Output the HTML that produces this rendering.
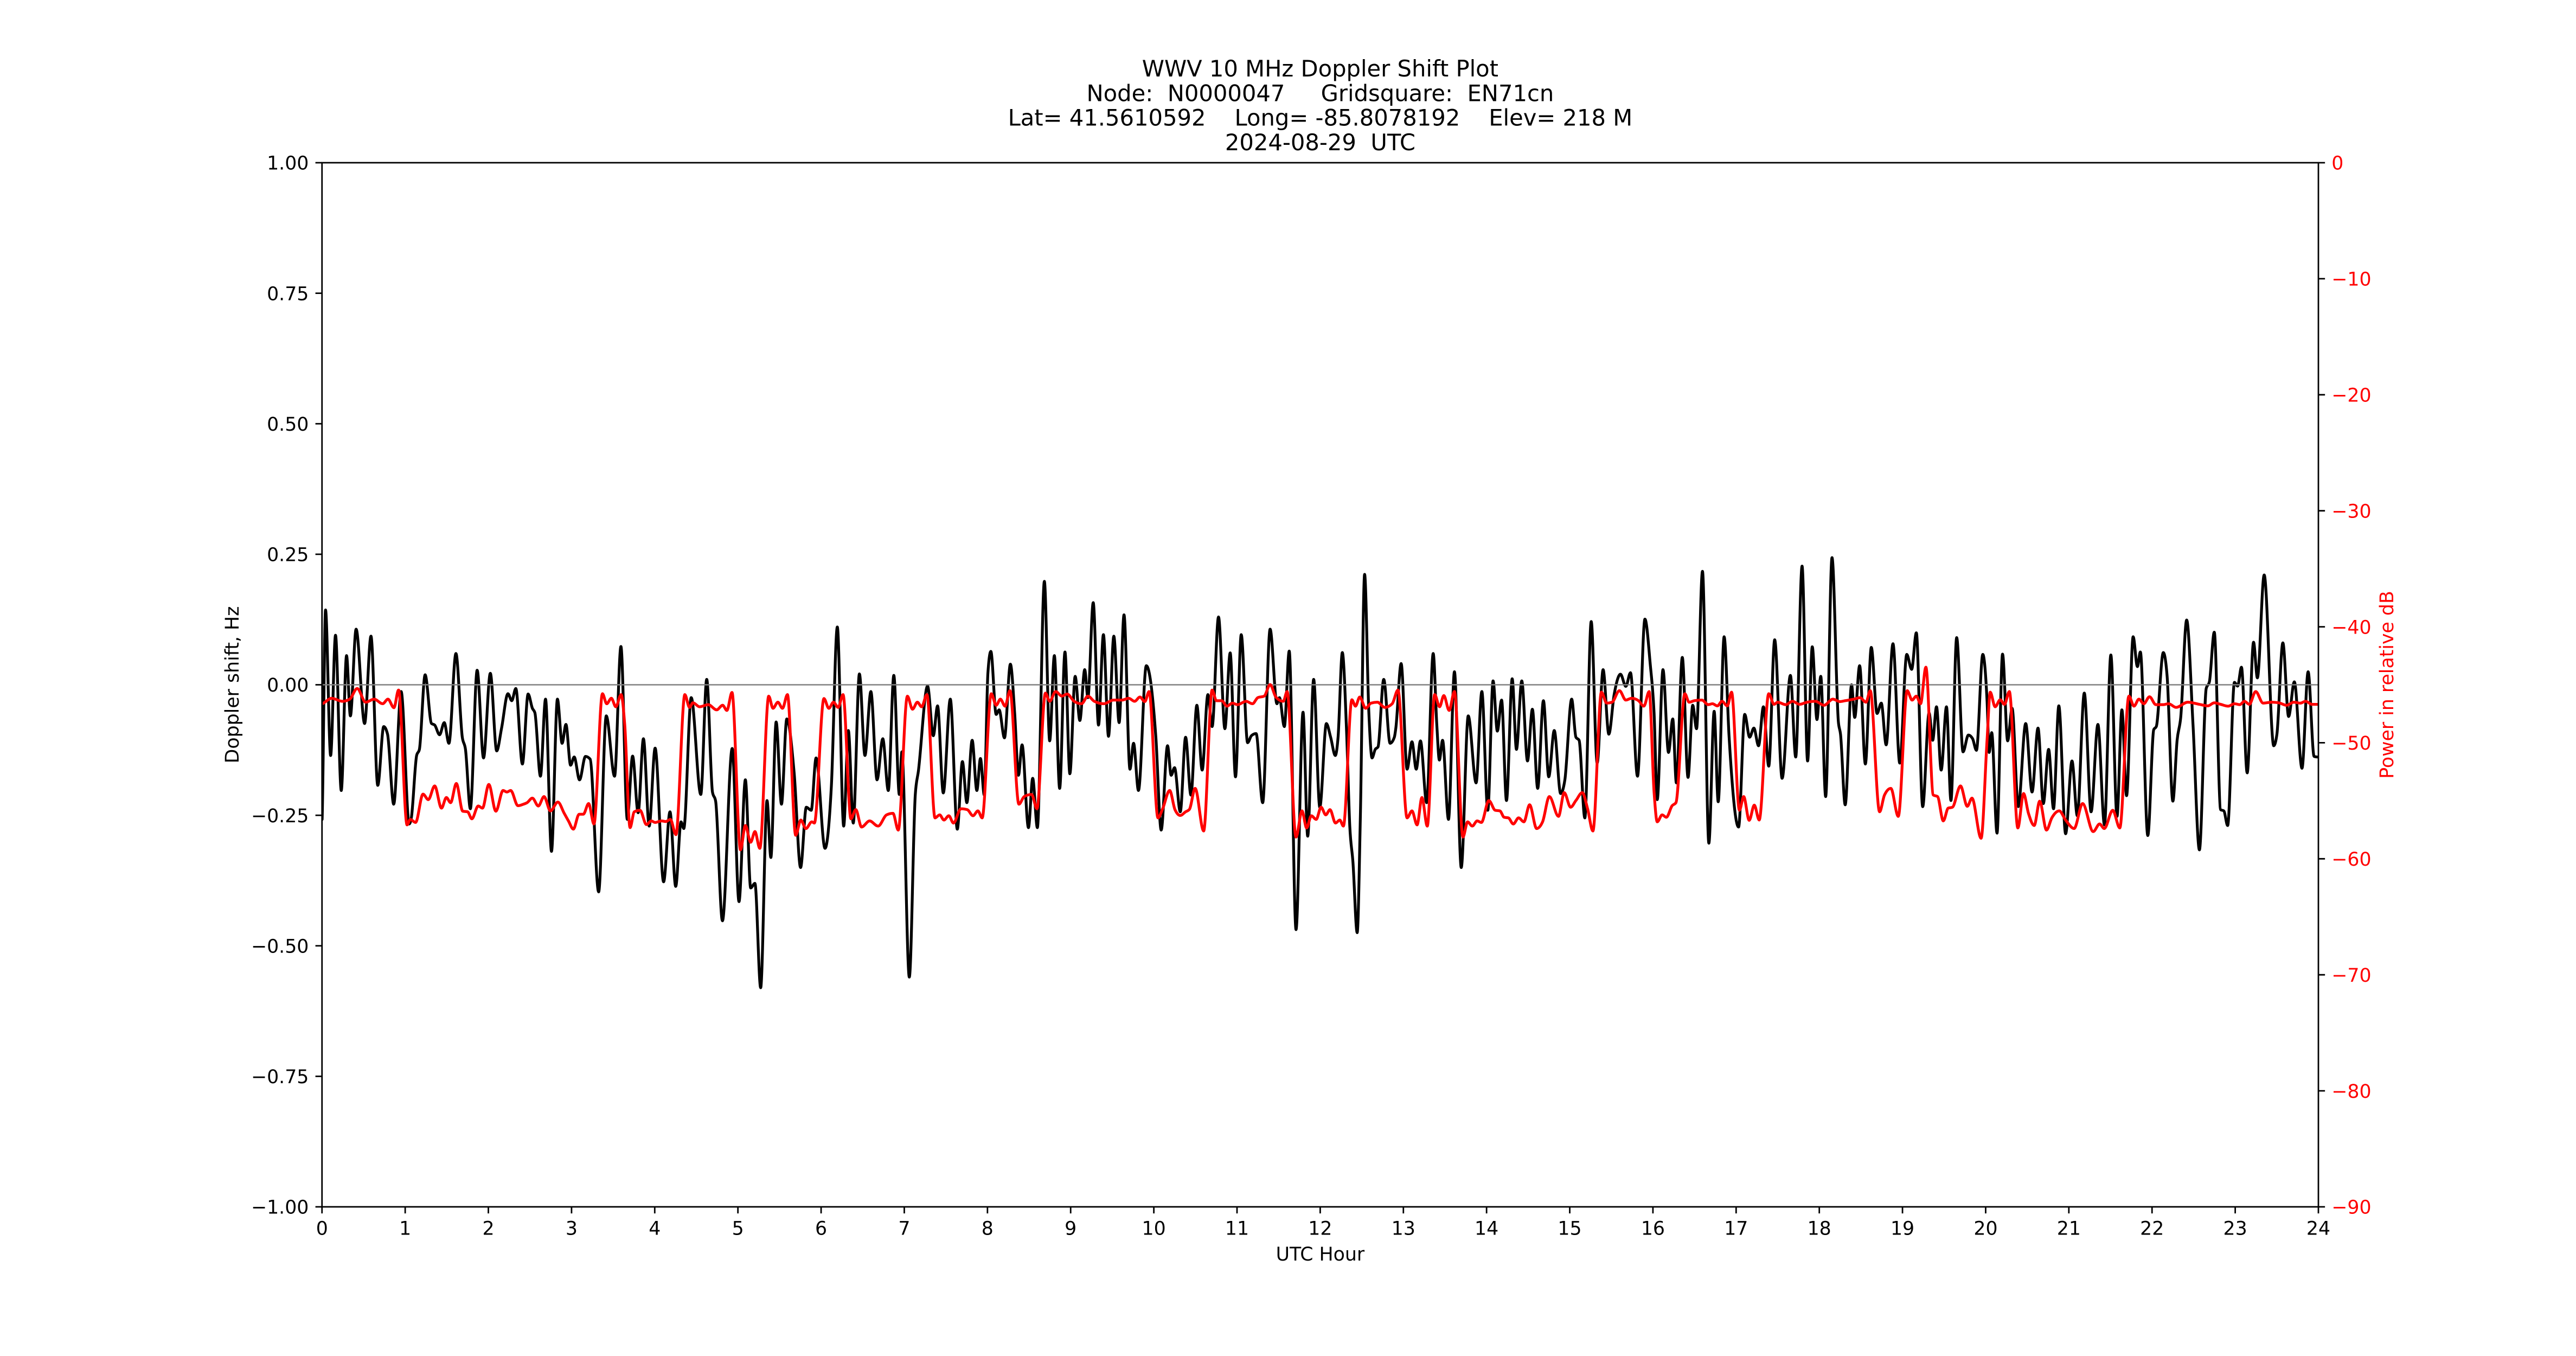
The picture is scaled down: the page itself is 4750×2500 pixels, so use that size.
<!DOCTYPE html>
<html>
<head>
<meta charset="utf-8">
<style>
html,body{margin:0;padding:0;background:#fff;}
svg{display:block;}
text{font-family:"DejaVu Sans","Liberation Sans",sans-serif;white-space:pre;}
</style>
</head>
<body>
<svg id="chart" width="4750" height="2500" viewBox="0 0 4750 2500" xmlns="http://www.w3.org/2000/svg">
<rect x="0" y="0" width="4750" height="2500" fill="#ffffff"/>
<defs>
<clipPath id="plotclip"><rect x="593.75" y="300" width="3681.25" height="1925"/></clipPath>
</defs>

<!-- Title -->
<g font-size="41.67" fill="#000" text-anchor="middle">
<text x="2434.4" y="141.2">WWV 10 MHz Doppler Shift Plot</text>
<text x="2434.4" y="186.4">Node:  N0000047     Gridsquare:  EN71cn</text>
<text x="2434.4" y="231.6">Lat= 41.5610592    Long= -85.8078192    Elev= 218 M</text>
<text x="2434.4" y="276.8">2024-08-29  UTC</text>
</g>

<!-- Data -->
<g clip-path="url(#plotclip)">
<path id="blk" d="" fill="none" stroke="#000000" stroke-width="5.2" stroke-linejoin="round" stroke-linecap="round"/>
<line x1="593.75" y1="1262.5" x2="4275" y2="1262.5" stroke="#808080" stroke-width="2.6"/>
<path id="red" d="" fill="none" stroke="#ff0000" stroke-width="5.2" stroke-linejoin="round" stroke-linecap="round"/>
</g>

<!-- Left ticks -->
<path d="M581.6,300h12.15M581.6,540.6h12.15M581.6,781.25h12.15M581.6,1021.9h12.15M581.6,1262.5h12.15M581.6,1503.1h12.15M581.6,1743.75h12.15M581.6,1984.4h12.15M581.6,2225h12.15" stroke="#000" stroke-width="2.78" fill="none"/>
<g font-size="34.72" fill="#000" text-anchor="end">
<text x="569.4" y="312.65">1.00</text>
<text x="569.4" y="553.25">0.75</text>
<text x="569.4" y="793.9">0.50</text>
<text x="569.4" y="1034.55">0.25</text>
<text x="569.4" y="1275.15">0.00</text>
<text x="569.4" y="1515.75">−0.25</text>
<text x="569.4" y="1756.4">−0.50</text>
<text x="569.4" y="1997.05">−0.75</text>
<text x="569.4" y="2237.65">−1.00</text>
</g>

<!-- Bottom ticks -->
<path d="M593.75,2225v12.15M747.14,2225v12.15M900.52,2225v12.15M1053.91,2225v12.15M1207.29,2225v12.15M1360.68,2225v12.15M1514.06,2225v12.15M1667.45,2225v12.15M1820.83,2225v12.15M1974.22,2225v12.15M2127.6,2225v12.15M2280.99,2225v12.15M2434.38,2225v12.15M2587.76,2225v12.15M2741.15,2225v12.15M2894.53,2225v12.15M3047.92,2225v12.15M3201.3,2225v12.15M3354.69,2225v12.15M3508.07,2225v12.15M3661.46,2225v12.15M3814.84,2225v12.15M3968.23,2225v12.15M4121.61,2225v12.15M4275,2225v12.15" stroke="#000" stroke-width="2.78" fill="none"/>
<g font-size="34.72" fill="#000" text-anchor="middle">
<text x="593.75" y="2276.5">0</text>
<text x="747.14" y="2276.5">1</text>
<text x="900.52" y="2276.5">2</text>
<text x="1053.91" y="2276.5">3</text>
<text x="1207.29" y="2276.5">4</text>
<text x="1360.68" y="2276.5">5</text>
<text x="1514.06" y="2276.5">6</text>
<text x="1667.45" y="2276.5">7</text>
<text x="1820.83" y="2276.5">8</text>
<text x="1974.22" y="2276.5">9</text>
<text x="2127.6" y="2276.5">10</text>
<text x="2280.99" y="2276.5">11</text>
<text x="2434.38" y="2276.5">12</text>
<text x="2587.76" y="2276.5">13</text>
<text x="2741.15" y="2276.5">14</text>
<text x="2894.53" y="2276.5">15</text>
<text x="3047.92" y="2276.5">16</text>
<text x="3201.3" y="2276.5">17</text>
<text x="3354.69" y="2276.5">18</text>
<text x="3508.07" y="2276.5">19</text>
<text x="3661.46" y="2276.5">20</text>
<text x="3814.84" y="2276.5">21</text>
<text x="3968.23" y="2276.5">22</text>
<text x="4121.61" y="2276.5">23</text>
<text x="4275" y="2276.5">24</text>
</g>

<!-- Right ticks -->
<path d="M4275,300h12.15M4275,513.9h12.15M4275,727.8h12.15M4275,941.7h12.15M4275,1155.6h12.15M4275,1369.4h12.15M4275,1583.3h12.15M4275,1797.2h12.15M4275,2011.1h12.15M4275,2225h12.15" stroke="#000" stroke-width="2.78" fill="none"/>
<g font-size="34.72" fill="#ff0000" text-anchor="start">
<text x="4299.3" y="312.65">0</text>
<text x="4299.3" y="526.55">−10</text>
<text x="4299.3" y="740.45">−20</text>
<text x="4299.3" y="954.35">−30</text>
<text x="4299.3" y="1168.25">−40</text>
<text x="4299.3" y="1382.05">−50</text>
<text x="4299.3" y="1595.95">−60</text>
<text x="4299.3" y="1809.85">−70</text>
<text x="4299.3" y="2023.75">−80</text>
<text x="4299.3" y="2237.65">−90</text>
</g>

<!-- Axis labels -->
<text x="2434.4" y="2324" font-size="34.72" fill="#000" text-anchor="middle">UTC Hour</text>
<text transform="translate(440,1262.5) rotate(-90)" x="0" y="0" font-size="34.72" fill="#000" text-anchor="middle">Doppler shift, Hz</text>
<text transform="translate(4413,1262.5) rotate(-90)" x="0" y="0" font-size="34.72" fill="#ff0000" text-anchor="middle">Power in relative dB</text>

<!-- Spines -->
<rect x="593.75" y="300" width="3681.25" height="1925" fill="none" stroke="#000" stroke-width="2.78"/>
</svg>

<script>
(function(){
var SX=614/1568, SY=880/1568, X0=[594,1208,1822,2436,3050,3664];
var B=[
[0,910,16,222,40,700,63,305,90,815,115,372,133,570,160,285,200,595,230,308,262,798,290,605,308,630,337,860,372,490,410,925,420,905,445,700,458,680,485,435,515,595,530,600,553,632,575,592,597,660,630,365,660,640,675,680,698,875,730,420,760,708,792,430,822,685,845,610,875,497,893,520,912,480,943,728,970,498,990,545,1002,560,1028,768,1052,515,1080,1015,1108,515,1130,660,1148,598,1170,732,1187,705,1212,780,1240,703,1262,712,1302,1148,1338,570,1377,768,1407,342,1437,910,1462,702,1488,888,1513,645,1540,932],
[0,676,40,1115,70,885,97,1130,122,918,135,940,170,510,215,828,243,450,270,820,285,850,317,1243,363,677,395,1180,425,780,450,1135,470,1120,497,1463,527,848,545,1035,570,590,595,860,620,580,655,760,685,1068,712,870,735,880,758,708,800,1005,830,800,858,278,888,932,910,618,933,922,962,432,988,700,1016,490,1045,780,1072,645,1098,815,1124,437,1150,828,1162,688,1197,1428,1225,830,1240,750,1283,472,1310,635,1330,537,1357,823,1390,515,1423,942,1447,720,1468,855,1493,650,1515,815,1532,710,1550,830,1567,430],
[13,358,38,565,52,550,77,642,105,400,125,560,143,765,160,665,190,937,210,775,232,937,265,128,290,652,312,372,337,808,362,360,385,760,410,440,432,585,455,418,470,510,495,198,520,600,543,303,567,637,592,308,617,592,640,238,668,745,685,660,708,815,745,405,790,640,815,945,845,668,862,765,878,740,905,885,930,640,955,830,983,535,1008,748,1035,500,1055,605,1085,245,1115,612,1140,363,1165,770,1192,303,1222,658,1240,635,1262,628,1293,855,1328,285,1360,530,1372,510,1395,605,1418,357,1450,1272,1483,558,1505,965,1533,450,1562,870],
[25,595,45,640,67,700,80,640,100,362,120,620,135,930,150,1050,170,1282,185,900,205,105,225,560,240,708,255,680,268,672,295,450,325,660,345,640,352,610,377,398,405,745,428,655,448,745,468,652,497,855,528,365,545,600,557,715,572,650,600,910,628,425,660,1068,693,570,730,790,757,490,785,880,810,455,830,620,850,518,873,848,900,448,920,680,945,455,972,718,995,548,1020,808,1047,520,1072,770,1098,618,1128,825,1148,780,1180,515,1200,640,1215,650,1242,905,1272,260,1300,725,1328,418,1355,630,1380,500,1410,433,1435,473,1457,428,1490,768,1525,252,1550,400,1568,560],
[15,845,42,418,68,690,88,580,105,790,133,378,160,772,182,535,200,612,228,95,258,988,283,555,302,852,330,310,353,635,398,935,427,565,450,640,470,610,492,668,515,540,540,735,568,320,603,775,642,437,667,705,697,78,723,718,745,343,767,582,785,440,808,835,838,50,868,590,878,630,900,862,930,468,945,575,968,405,995,728,1023,345,1050,562,1070,528,1093,665,1125,333,1157,725,1190,368,1213,417,1235,297,1265,868,1295,560,1312,650,1330,540,1352,748,1377,540,1398,848,1425,313,1455,688,1480,633,1500,645,1518,683,1548,368,1568,520],
[10,690,22,625,47,955,73,367,97,652,118,545,147,868,182,595,212,820,240,610,265,858,290,680,313,875,338,537,370,957,400,718,425,898,458,495,490,885,522,598,553,928,583,370,612,900,635,550,657,832,688,310,708,408,722,360,757,963,785,615,797,605,830,362,848,440,875,850,895,650,912,575,940,255,970,600,1000,1010,1032,480,1047,458,1070,295,1100,878,1115,882,1133,930,1165,460,1180,472,1198,410,1225,757,1255,328,1273,445,1305,107,1350,668,1365,630,1393,330,1420,572,1447,458,1483,742,1512,425,1540,703,1555,705]
];
var R=[
[0,530,45,512,95,522,130,515,165,480,205,525,245,515,285,530,310,515,338,543,360,485,400,928,415,910,440,920,475,827,500,845,530,800,562,873,585,838,605,855,632,792,662,883,685,885,705,908,735,866,755,873,785,795,818,883,852,815,870,820,888,815,922,865,948,860,965,855,990,840,1018,866,1045,835,1075,882,1110,853,1140,890,1160,915,1183,942,1210,893,1230,893,1255,858,1280,925,1320,497,1340,530,1362,512,1383,540,1408,500,1425,600,1450,937,1470,885,1497,880,1527,927,1550,915],
[0,920,30,915,50,917,72,910,98,960,140,500,162,542,178,527,210,540,250,533,290,550,318,535,338,552,362,493,402,1010,425,930,450,985,470,950,493,1005,535,505,555,545,578,525,600,545,623,500,662,962,686,912,710,940,738,918,750,922,795,513,818,545,840,525,862,542,885,500,922,908,945,878,972,935,1010,915,1050,932,1090,895,1120,890,1145,945,1188,505,1212,548,1235,525,1255,540,1280,500,1318,905,1340,895,1360,912,1383,898,1405,922,1440,875,1470,878,1497,898,1520,882,1540,905],
[15,497,38,535,58,515,80,538,103,487,145,860,170,835,205,828,230,875,270,495,290,522,318,490,348,505,372,498,405,522,440,530,470,505,500,522,545,530,590,518,630,518,662,512,690,522,715,508,738,523,758,490,800,905,822,875,855,815,880,878,905,897,930,885,948,877,975,808,1015,948,1055,485,1075,520,1100,520,1125,538,1150,528,1175,533,1215,522,1245,530,1270,510,1300,505,1328,467,1355,508,1390,522,1408,490,1450,968,1478,882,1500,938,1522,898,1545,910,1568,870],
[22,895,42,878,68,922,88,912,105,932,145,517,162,538,182,508,210,545,235,528,265,525,300,542,335,530,362,485,405,905,428,882,452,928,475,838,500,932,535,500,558,540,578,503,603,552,628,490,668,968,690,918,712,932,735,915,755,920,790,848,820,880,842,882,862,903,882,905,905,925,930,905,955,918,982,862,1015,940,1043,918,1075,835,1118,900,1145,822,1175,870,1200,848,1230,822,1255,875,1280,948,1320,492,1345,528,1370,525,1405,487,1435,518,1462,512,1495,520,1520,538,1545,490,1568,820],
[15,918,38,895,58,903,85,865,103,855,145,497,165,525,190,520,225,518,255,533,275,530,298,537,320,522,345,537,365,492,402,880,422,835,448,913,472,863,495,912,540,497,565,532,582,525,620,533,652,522,685,532,720,525,760,522,800,535,842,515,875,523,900,520,940,515,970,510,998,525,1018,487,1062,885,1085,830,1115,808,1150,900,1192,487,1215,518,1235,505,1255,530,1280,410,1315,830,1335,835,1362,915,1385,873,1405,870,1443,800,1475,867,1497,840,1540,972,1568,650],
[15,492,38,540,62,517,82,532,105,490,145,938,172,825,195,890,222,930,248,850,280,945,305,905,340,882,370,912,410,940,450,858,500,950,530,925,552,940,592,880,625,938,668,505,692,538,715,515,738,530,765,507,795,533,830,533,855,530,890,542,945,525,1000,532,1040,537,1070,527,1100,532,1135,538,1165,530,1190,533,1212,522,1235,532,1265,490,1300,528,1340,525,1375,527,1410,535,1445,525,1475,528,1500,522,1530,532,1555,532]
];
function glob(strips){
  var out=[];
  for(var k=0;k<strips.length;k++){
    var a=strips[k];
    for(var i=0;i<a.length;i+=2){
      var x=X0[k]+a[i]*SX, y=1000+a[i+1]*SY;
      if(out.length && x<=out[out.length-1][0]+0.3) continue;
      out.push([x,y]);
    }
  }
  return out;
}
function sgn(v){return v>0?1:(v<0?-1:0);}
function mono(p){
  var n=p.length,h=[],s=[],t=[],i;
  for(i=0;i<n-1;i++){h[i]=p[i+1][0]-p[i][0];s[i]=(p[i+1][1]-p[i][1])/h[i];}
  t[0]=s[0]*0.5;t[n-1]=s[n-2]*0.5;
  for(i=1;i<n-1;i++){
    var q=(s[i-1]*h[i]+s[i]*h[i-1])/(h[i-1]+h[i]);
    t[i]=(sgn(s[i-1])+sgn(s[i]))*Math.min(Math.abs(s[i-1]),Math.abs(s[i]),0.5*Math.abs(q))||0;
  }
  var d='M'+p[0][0].toFixed(2)+','+p[0][1].toFixed(2);
  for(i=0;i<n-1;i++){
    var dx=h[i]/3;
    d+='C'+(p[i][0]+dx).toFixed(2)+','+(p[i][1]+t[i]*dx).toFixed(2)+' '+
       (p[i+1][0]-dx).toFixed(2)+','+(p[i+1][1]-t[i+1]*dx).toFixed(2)+' '+
       p[i+1][0].toFixed(2)+','+p[i+1][1].toFixed(2);
  }
  return d;
}
document.getElementById('blk').setAttribute('d',mono(glob(B)));
document.getElementById('red').setAttribute('d',mono(glob(R)));
})();
</script>
</body>
</html>
